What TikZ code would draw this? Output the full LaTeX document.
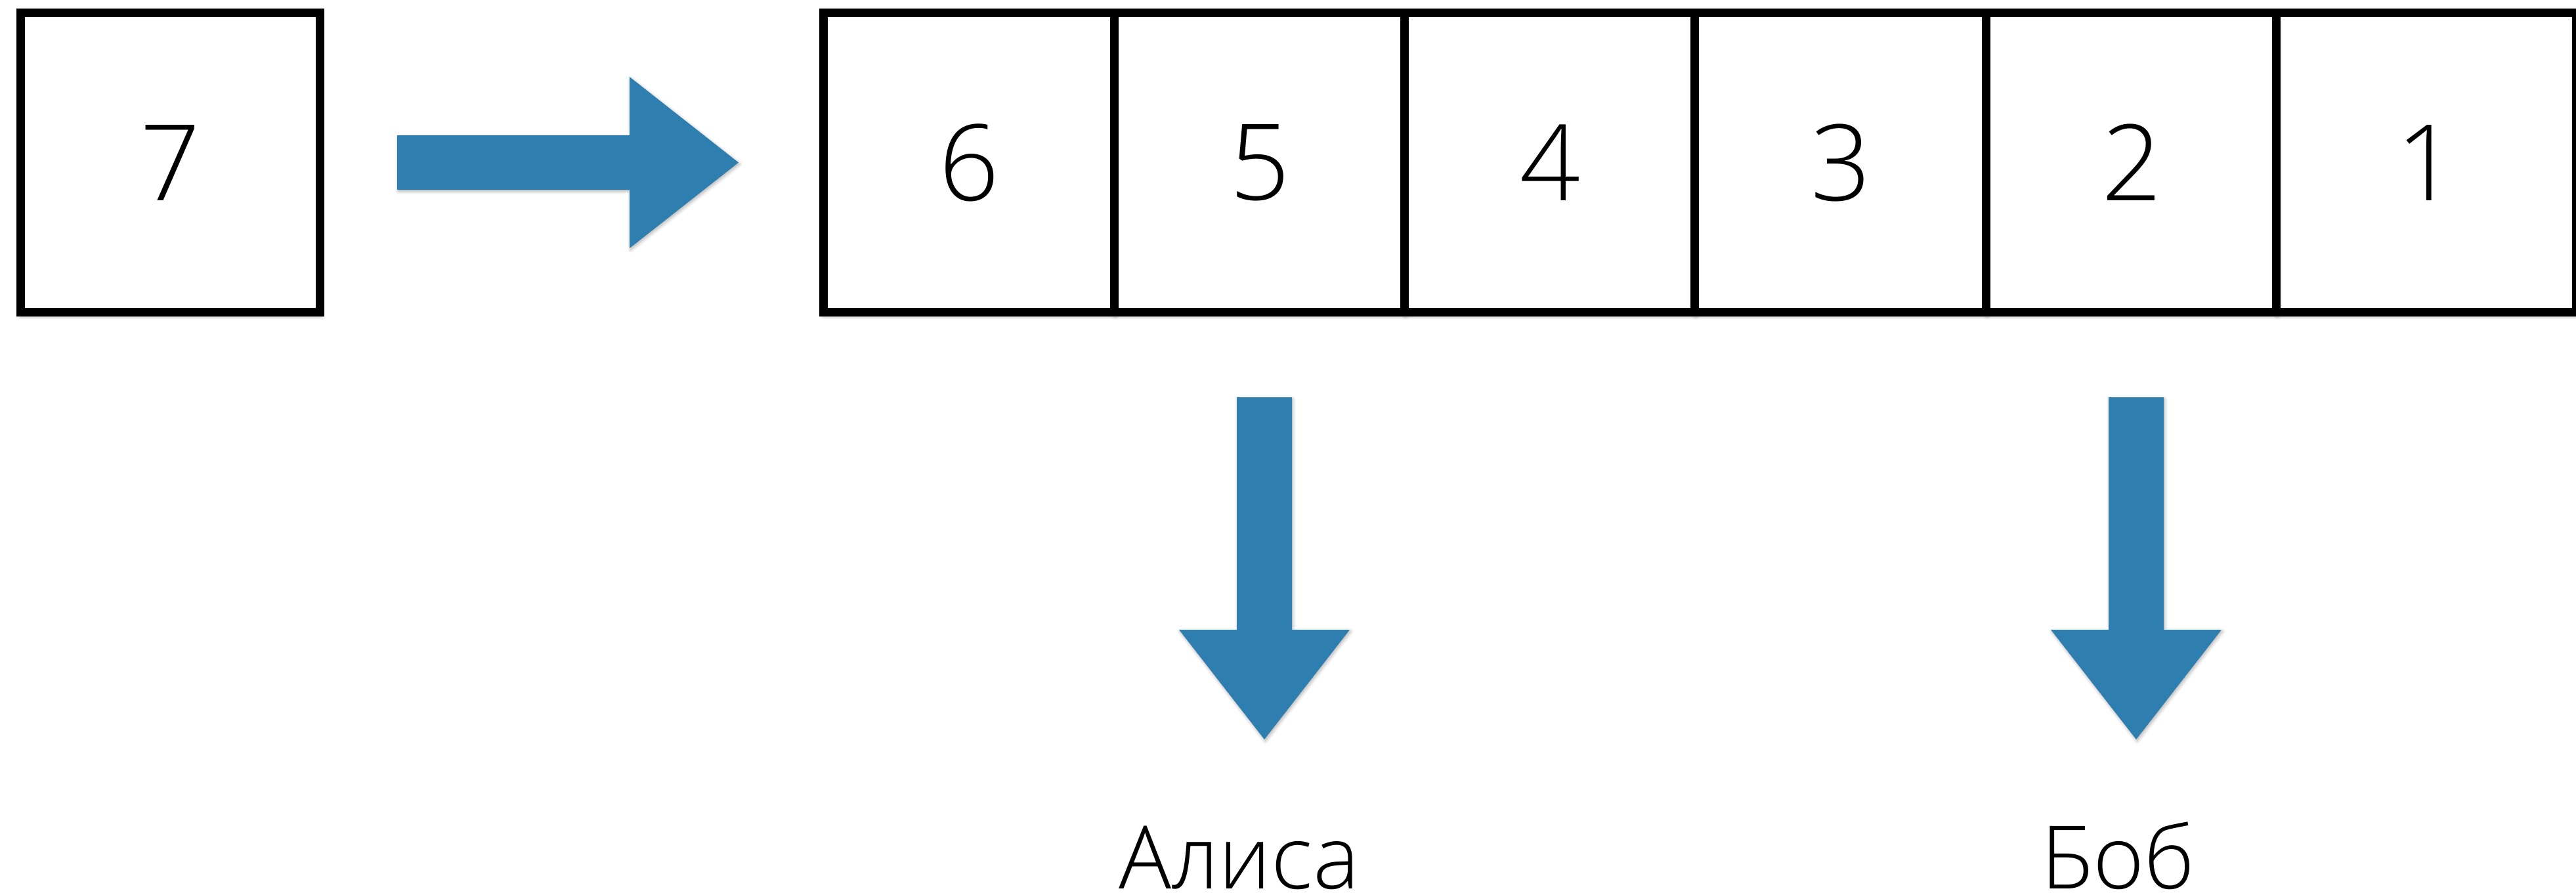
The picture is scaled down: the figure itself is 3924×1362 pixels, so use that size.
\documentclass[tikz,border=0pt]{standalone}
\usepackage{fontspec}
\setmainfont{Open Sans Light}
\usetikzlibrary{shadows.blur}
\definecolor{arrowblue}{RGB}{46,126,176}

\tikzset{
  softshadow/.style={blur shadow={shadow xshift=0.01cm, shadow yshift=-0.05cm,
      shadow blur radius=0.07cm, shadow blur steps=6, shadow opacity=35}},
  cellbox/.style={draw=black, line width=0.13cm, fill=white, inner sep=0pt,
      outer sep=0pt, minimum height=4.554cm, softshadow,
      font=\fontsize{45.8pt}{50pt}\selectfont},
  blockarrow/.style={fill=arrowblue, blur shadow={shadow xshift=0.015cm,
      shadow yshift=-0.025cm, shadow blur radius=0.05cm, shadow blur steps=5,
      shadow opacity=30}},
  nametext/.style={inner sep=0pt, anchor=base,
      font=\fontsize{37.9pt}{42pt}\selectfont}
}

\begin{document}
\begin{tikzpicture}[x=0.01cm, y=-0.01cm]
  \useasboundingbox (0,0) rectangle (3924,1362);

  % the incoming element
  \node[cellbox, minimum width=4.56cm] (n7) at (259.5,247.5) {7};

  % the queue of six cells
  \node[cellbox, minimum width=4.435cm] (c6) at (1476.25,247.5) {6};
  \node[cellbox, minimum width=4.42cm]  (c5) at (1919,247.5) {5};
  \node[cellbox, minimum width=4.42cm]  (c4) at (2361,247.5) {4};
  \node[cellbox, minimum width=4.44cm]  (c3) at (2804,247.5) {3};
  \node[cellbox, minimum width=4.42cm]  (c2) at (3247,247.5) {2};
  \node[cellbox, minimum width=4.565cm] (c1) at (3696.25,247.5) {1};

  % push arrow into the queue
  \fill[blockarrow] (605,206) -- (959,206) -- (959,117) -- (1125,247.5)
    -- (959,378) -- (959,289) -- (605,289) -- cycle;

  % readers
  \fill[blockarrow] (1884,605) -- (1968,605) -- (1968,959) -- (2056,959)
    -- (1926,1126) -- (1796,959) -- (1884,959) -- cycle;
  \fill[blockarrow] (3212,605) -- (3296,605) -- (3296,959) -- (3384,959)
    -- (3254,1126) -- (3124,959) -- (3212,959) -- cycle;

  \node[nametext] (alice) at (1887.5,1353) {Алиса};
  \node[nametext] (bob) at (3226,1353) {Боб};
\end{tikzpicture}
\end{document}
